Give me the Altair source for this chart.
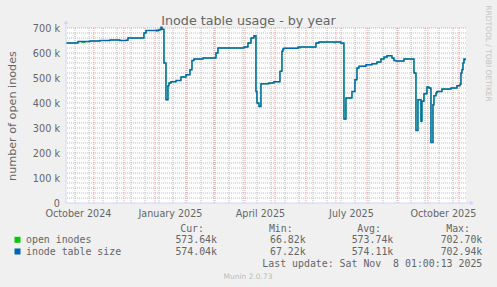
import altair as alt
import pandas as pd

# ---------------- data (values in thousands) ----------------
dates = [
    "2024-10-04T01:00:00", "2024-10-16T00:00:00", "2024-10-20T00:00:00", "2024-10-23T00:00:00",
    "2024-10-28T00:00:00", "2024-11-07T00:00:00", "2024-11-17T00:00:00", "2024-11-27T00:00:00",
    "2024-12-03T00:00:00", "2024-12-05T00:00:00", "2024-12-21T00:00:00", "2024-12-23T00:00:00",
    "2025-01-02T00:00:00", "2025-01-05T00:00:00", "2025-01-07T00:00:00", "2025-01-08T00:00:00",
    "2025-01-10T00:00:00", "2025-01-12T00:00:00", "2025-01-14T00:00:00", "2025-01-15T00:00:00",
    "2025-01-17T00:00:00", "2025-01-22T00:00:00", "2025-01-27T00:00:00", "2025-02-01T00:00:00",
    "2025-02-05T00:00:00", "2025-02-07T00:00:00", "2025-02-09T00:00:00", "2025-02-18T00:00:00",
    "2025-03-03T00:00:00", "2025-03-05T00:00:00", "2025-03-31T00:00:00", "2025-04-04T00:00:00",
    "2025-04-07T00:00:00", "2025-04-10T00:00:00", "2025-04-12T00:00:00", "2025-04-13T00:00:00",
    "2025-04-15T00:00:00", "2025-04-17T00:00:00", "2025-04-25T00:00:00", "2025-04-30T00:00:00",
    "2025-05-06T00:00:00", "2025-05-08T00:00:00", "2025-05-09T00:00:00", "2025-05-10T00:00:00",
    "2025-05-24T00:00:00", "2025-05-27T00:00:00", "2025-06-11T00:00:00", "2025-06-14T00:00:00",
    "2025-06-29T00:00:00", "2025-07-01T00:00:00", "2025-07-06T00:00:00", "2025-07-09T00:00:00",
    "2025-07-11T00:00:00", "2025-07-17T00:00:00", "2025-07-20T00:00:00", "2025-07-22T00:00:00",
    "2025-07-24T00:00:00", "2025-07-31T00:00:00", "2025-08-06T00:00:00", "2025-08-11T00:00:00",
    "2025-08-15T00:00:00", "2025-08-18T00:00:00", "2025-08-21T00:00:00", "2025-08-26T00:00:00",
    "2025-08-28T00:00:00", "2025-08-30T00:00:00", "2025-09-07T00:00:00", "2025-09-17T00:00:00",
    "2025-09-19T00:00:00", "2025-09-21T00:00:00", "2025-09-24T00:00:00", "2025-09-25T00:00:00",
    "2025-09-27T00:00:00", "2025-09-30T00:00:00", "2025-10-02T00:00:00", "2025-10-04T00:00:00",
    "2025-10-06T00:00:00", "2025-10-07T00:00:00", "2025-10-09T00:00:00", "2025-10-10T00:00:00",
    "2025-10-15T00:00:00", "2025-10-24T00:00:00", "2025-10-30T00:00:00", "2025-11-02T00:00:00",
    "2025-11-03T00:00:00", "2025-11-04T00:00:00", "2025-11-05T00:00:00", "2025-11-06T00:00:00",
    "2025-11-07T00:00:00", "2025-11-08T01:00:00",
]
inode_table_size = [
    640, 646, 646, 646, 648, 650, 652, 650, 651, 660, 680, 690,
    691, 693, 702.9, 695, 560, 413, 469, 480, 485, 490, 504, 513,
    533, 570, 576, 580, 600, 620, 624, 640, 660, 669, 446, 400,
    386, 477, 480, 485, 527, 607, 616, 619, 624, 624, 640, 644,
    644, 644, 640, 336, 420, 446, 493, 540, 547, 553, 557, 564,
    576, 584, 589, 580, 570, 568, 576, 520, 290, 413, 327, 407,
    437, 464, 460, 242, 393, 429, 440, 446, 456, 460, 469, 475,
    520, 533, 560, 576, 574, 574,
]
open_inodes = [
    640, 646, 642, 646, 648, 650, 652, 650, 651, 660, 680, 690,
    687, 693, 702.7, 695, 560, 413, 469, 480, 485, 490, 504, 513,
    533, 570, 576, 580, 600, 620, 624, 640, 660, 669, 446, 400,
    386, 477, 480, 485, 527, 607, 616, 619, 620, 624, 640, 644,
    640, 644, 637, 336, 420, 446, 493, 540, 547, 553, 557, 564,
    576, 581, 589, 580, 570, 568, 576, 520, 290, 413, 327, 407,
    437, 464, 460, 242, 393, 429, 440, 446, 456, 460, 469, 475,
    520, 533, 560, 576, 573.6, 573.6,
]

label_dates = [(2024, 10, 16), (2025, 1, 16), (2025, 4, 16), (2025, 7, 16), (2025, 10, 16)]
month_starts = [
    "2024-11-01", "2024-12-01", "2025-01-01", "2025-02-01", "2025-03-01", "2025-04-01",
    "2025-05-01", "2025-06-01", "2025-07-01", "2025-08-01", "2025-09-01", "2025-10-01",
    "2025-11-01",
]
biweekly = [
    "2024-10-13", "2024-10-27", "2024-11-10", "2024-11-24", "2024-12-08", "2024-12-22",
    "2025-01-05", "2025-01-19", "2025-02-02", "2025-02-16", "2025-03-02", "2025-03-16",
    "2025-03-30", "2025-04-13", "2025-04-27", "2025-05-11", "2025-05-25", "2025-06-08",
    "2025-06-22", "2025-07-06", "2025-07-20", "2025-08-03", "2025-08-17", "2025-08-31",
    "2025-09-14", "2025-09-28", "2025-10-12", "2025-10-26",
]
y_major = [100, 200, 300, 400, 500, 600, 700]
y_minor = [v for v in range(20, 700, 20) if v % 100 != 0]

series_names = ["open inodes", "inode table size"]
series_colors = ["#00CC00", "#0066B3"]
cur_vals = ["573.64k", "574.04k"]
min_vals = ["66.82k", "67.22k"]
avg_vals = ["573.74k", "574.11k"]
max_vals = ["702.70k", "702.94k"]

# ---------------- chart ----------------
df = pd.DataFrame({"date": dates, "size": inode_table_size, "open": open_inodes})

FONT = "DejaVu Sans"
MONO = "DejaVu Sans Mono"
TXT = "#666666"

x_scale = alt.Scale(domain=[alt.DateTime(year=2024, month=10, date=4, hours=1),
                            alt.DateTime(year=2025, month=11, date=8, hours=1)])
y_scale = alt.Scale(domain=[0, 700], nice=False, zero=True)

x_axis = alt.Axis(
    values=[alt.DateTime(year=y, month=m, date=d) for (y, m, d) in label_dates],
    format="%B %Y", grid=False, ticks=False, domain=False, labelPadding=5,
    labelFont=FONT, labelFontSize=9.6, labelColor=TXT, labelOverlap=False,
    labelFlush=False, title=None,
)
y_axis = alt.Axis(
    values=[0, 100, 200, 300, 400, 500, 600, 700],
    labelExpr="datum.value == 0 ? '0' : datum.value + ' k'",
    grid=False, ticks=False, domain=False, labelPadding=6.5,
    labelFont=FONT, labelFontSize=9.7, labelColor=TXT,
    title="number of open inodes", titleFont=FONT, titleFontSize=11.2,
    titleFontWeight="normal", titleColor=TXT, titleAngle=270,
    titleX=-54, titleY=87.5, titleAlign="center", titleBaseline="middle",
)

grid_minor_h = alt.Chart(pd.DataFrame({"v": y_minor})).mark_rule(
    color="#8F8F8F", opacity=0.6, strokeDash=[1, 1], strokeWidth=1
).encode(y=alt.Y("v:Q", scale=y_scale, axis=y_axis))

grid_minor_v = alt.Chart(pd.DataFrame({"d": biweekly})).mark_rule(
    color="#8F8F8F", opacity=0.6, strokeDash=[1, 1], strokeWidth=1
).encode(x=alt.X("d:T", scale=x_scale, axis=x_axis))

grid_major_h = alt.Chart(pd.DataFrame({"v": y_major})).mark_rule(
    color="#DE4F4F", opacity=0.5, strokeDash=[1, 1], strokeWidth=1
).encode(y=alt.Y("v:Q", scale=y_scale, axis=y_axis))

grid_major_v = alt.Chart(pd.DataFrame({"d": month_starts})).mark_rule(
    color="#DE4F4F", opacity=0.5, strokeDash=[1, 1], strokeWidth=1
).encode(x=alt.X("d:T", scale=x_scale, axis=x_axis))

base = alt.Chart(df)
line_open = base.mark_line(color=series_colors[0], strokeWidth=0.9, interpolate="step-after").encode(
    x=alt.X("date:T", scale=x_scale, axis=x_axis),
    y=alt.Y("open:Q", scale=y_scale, axis=y_axis),
)
line_size = base.mark_line(color=series_colors[1], strokeWidth=1.4, interpolate="step-after").encode(
    x=alt.X("date:T", scale=x_scale, axis=x_axis),
    y=alt.Y("size:Q", scale=y_scale, axis=y_axis),
)

one = pd.DataFrame({"a": [0]})
AX = "#CFD6F8"
axis_v = alt.Chart(one).mark_rule(color=AX, strokeWidth=1).encode(
    x=alt.value(0), y=alt.value(-4), y2=alt.value(175))
axis_h = alt.Chart(one).mark_rule(color=AX, strokeWidth=1).encode(
    x=alt.value(0), x2=alt.value(404), y=alt.value(175))
arrow_up = alt.Chart(one).mark_point(shape="triangle-up", filled=True, color=AX, size=22, opacity=1).encode(
    x=alt.value(0), y=alt.value(-6))
arrow_right = alt.Chart(one).mark_point(shape="triangle-right", filled=True, color=AX, size=22, opacity=1).encode(
    x=alt.value(406), y=alt.value(175))


def txt(text, x, y, font=MONO, size=9.9, align="left", color=TXT, baseline="alphabetic", angle=0):
    kw = dict(text=text, font=font, fontSize=size, align=align, color=color, baseline=baseline)
    if angle:
        kw["angle"] = angle
    return alt.Chart(one).mark_text(**kw).encode(x=alt.value(x), y=alt.value(y))


texts = [
    txt("Inode table usage - by year", 182.5, -3, font=FONT, size=12.7, align="center"),
    txt("RRDTOOL / TOBI OETIKER", 422, 25.5, font=FONT, size=7.5, align="center",
        color="#C4C4C4", baseline="middle", angle=90),
    txt("Cur:", 138, 203.5, align="right"),
    txt("Min:", 226.7, 203.5, align="right"),
    txt("Avg:", 315, 203.5, align="right"),
    txt("Max:", 404, 203.5, align="right"),
]
row_y = [215.3, 227.0]
for i in range(2):
    texts += [
        txt(series_names[i], -40, row_y[i]),
        txt(cur_vals[i], 151, row_y[i], align="right"),
        txt(min_vals[i], 239.7, row_y[i], align="right"),
        txt(avg_vals[i], 327.3, row_y[i], align="right"),
        txt(max_vals[i], 416.3, row_y[i], align="right"),
        alt.Chart(one).mark_square(color=series_colors[i], size=36, opacity=1).encode(
            x=alt.value(-48.5), y=alt.value(row_y[i] - 3.5)),
    ]
texts += [
    txt("Last update: Sat Nov\u00a0\u00a08 01:00:13 2025", 416.3, 238.7, align="right"),
    txt("Munin 2.0.73", 182, 250.7, font=FONT, size=7.5, align="center", color="#BBBBBB"),
]

chart = alt.layer(
    grid_minor_h, grid_minor_v, grid_major_h, grid_major_v,
    line_open, line_size, axis_v, axis_h, arrow_up, arrow_right, *texts
).properties(
    width=400, height=175,
    background="#F0F0F0",
    padding={"left": 66, "top": 28, "right": 31, "bottom": 84},
    autosize=alt.AutoSizeParams(type="none"),
).configure_view(fill="white", stroke=None)

chart.save("out.html", embed_options={"renderer": "svg", "actions": False})
